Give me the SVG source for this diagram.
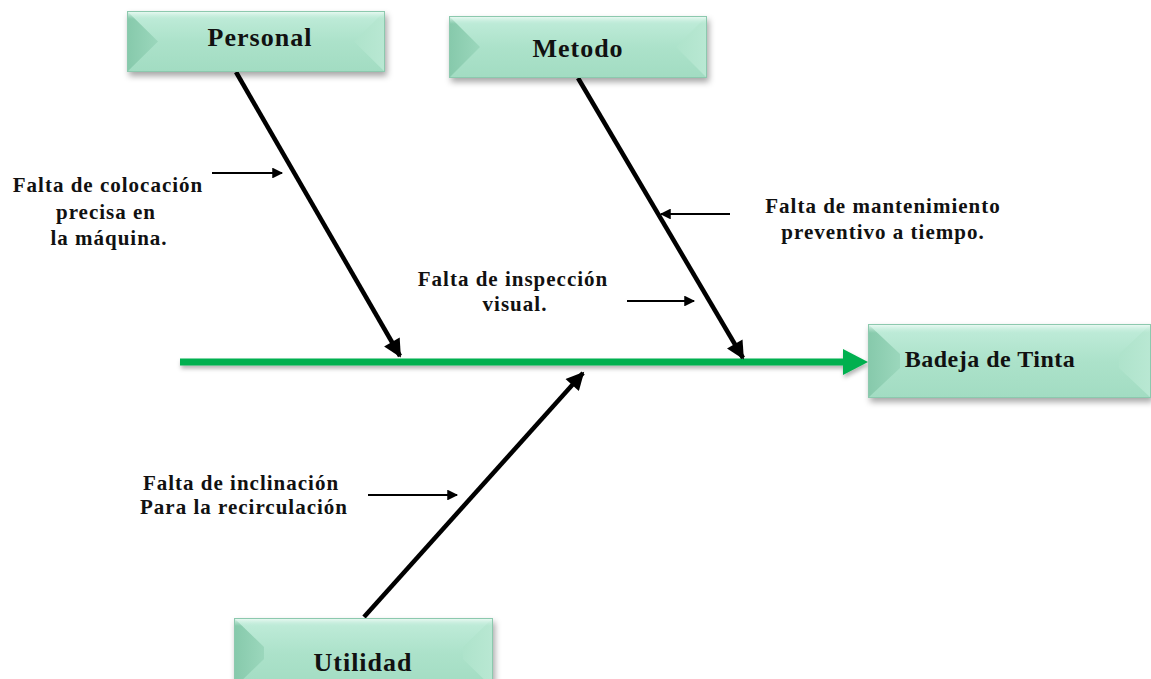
<svg xmlns="http://www.w3.org/2000/svg" width="1151" height="679" viewBox="0 0 1151 679">
  <style>
    .title { font-family: "Liberation Serif", "Times New Roman", serif; font-weight: bold; font-size: 26px; letter-spacing: 1px; fill: #111; text-anchor: middle; }
    .effect { font-size: 24px; letter-spacing: 0.5px; }
    .cause { font-family: "Liberation Serif", "Times New Roman", serif; font-weight: bold; font-size: 21px; letter-spacing: 1px; fill: #111; text-anchor: middle; }
    .body { fill: url(#bodyGrad); }
    .top { fill: url(#topGrad); }
    .left { fill: url(#leftGrad); }
    .right { fill: url(#rightGrad); }
    .edge { fill: none; stroke: #8cc9ae; stroke-width: 1; }
    .bone { stroke: #000; stroke-width: 4.5; fill: none; marker-end: url(#boneHead); }
    .pointer { stroke: #000; stroke-width: 1.8; fill: none; marker-end: url(#pointerHead); }
    .spine { stroke: #00b050; stroke-width: 7; fill: none; }
  </style>
  <defs>
    <linearGradient id="bodyGrad" x1="0" y1="0" x2="0" y2="1">
      <stop offset="0" stop-color="#c2eddb"/>
      <stop offset="0.5" stop-color="#ace2ca"/>
      <stop offset="1" stop-color="#a2dcc2"/>
    </linearGradient>
    <linearGradient id="topGrad" x1="0" y1="0" x2="0" y2="1">
      <stop offset="0" stop-color="#f2fbf7"/>
      <stop offset="1" stop-color="#c8efdf" stop-opacity="0"/>
    </linearGradient>
    <linearGradient id="leftGrad" x1="0" y1="0" x2="1" y2="0">
      <stop offset="0" stop-color="#86c9ab"/>
      <stop offset="1" stop-color="#9bd7bc"/>
    </linearGradient>
    <linearGradient id="rightGrad" x1="1" y1="0" x2="0" y2="0">
      <stop offset="0" stop-color="#b9e8d3"/>
      <stop offset="1" stop-color="#aee3cb"/>
    </linearGradient>
    <filter id="shadow" x="-10%" y="-20%" width="125%" height="160%">
      <feDropShadow dx="2" dy="4" stdDeviation="3" flood-color="#000" flood-opacity="0.35"/>
    </filter>
    <filter id="lineShadow" x="-5%" y="-100%" width="110%" height="300%">
      <feDropShadow dx="1" dy="3" stdDeviation="2" flood-color="#000" flood-opacity="0.3"/>
    </filter>
    <marker id="boneHead" viewBox="0 0 10 10" refX="9" refY="5" markerWidth="5" markerHeight="4" markerUnits="strokeWidth" orient="auto">
      <path d="M0,0 L10,5 L0,10 z" fill="#000"/>
    </marker>
    <marker id="pointerHead" viewBox="0 0 10 10" refX="9" refY="5" markerWidth="7" markerHeight="6" markerUnits="strokeWidth" orient="auto">
      <path d="M0,0 L10,5 L0,10 z" fill="#000"/>
    </marker>
  </defs>

  <rect width="1151" height="679" fill="#fff"/>

  <!-- Main spine and bones -->
  <g id="connectors">
    <g filter="url(#lineShadow)">
      <line class="spine" x1="180" y1="362" x2="846" y2="362"/>
      <polygon points="843,349 868,362 843,375" fill="#00b050"/>
    </g>
    <line class="bone" x1="236" y1="72" x2="400" y2="356"/>
    <line class="bone" x1="578" y1="78" x2="743" y2="358"/>
    <line class="bone" x1="364" y1="617" x2="583" y2="373"/>
    <line class="pointer" x1="212" y1="173" x2="282" y2="173"/>
    <line class="pointer" x1="730" y1="214" x2="661" y2="214"/>
    <line class="pointer" x1="627" y1="301" x2="694" y2="301"/>
    <line class="pointer" x1="368" y1="495" x2="457" y2="495"/>
  </g>

  <!-- Category boxes -->
  <g id="personal">
    <g filter="url(#shadow)">
      <rect class="body" x="127" y="11" width="258" height="61"/>
    </g>
    <polygon class="left" points="127,11 158,41.5 127,72"/>
    <polygon class="right" points="385,11 354,41.5 385,72"/>
    <rect class="top" x="127" y="11" width="258" height="8"/>
    <rect class="edge" x="127.5" y="11.5" width="257" height="60"/>
    <text class="title" x="260" y="46">Personal</text>
  </g>

  <g id="metodo">
    <g filter="url(#shadow)">
      <rect class="body" x="449" y="16" width="258" height="62"/>
    </g>
    <polygon class="left" points="449,16 480,47 449,78"/>
    <polygon class="right" points="707,16 676,47 707,78"/>
    <rect class="top" x="449" y="16" width="258" height="8"/>
    <rect class="edge" x="449.5" y="16.5" width="257" height="61"/>
    <text class="title" x="578" y="57">Metodo</text>
  </g>

  <g id="badeja">
    <g filter="url(#shadow)">
      <rect class="body" x="868" y="324" width="283" height="74"/>
    </g>
    <polygon class="left" points="868,324 900,354 900,368 868,398"/>
    <polygon class="right" points="1151,324 1119,354 1119,368 1151,398"/>
    <rect class="top" x="868" y="324" width="283" height="9"/>
    <rect class="edge" x="868.5" y="324.5" width="282" height="73"/>
    <text class="title effect" x="990" y="367">Badeja de Tinta</text>
  </g>

  <g id="utilidad">
    <g filter="url(#shadow)">
      <rect class="body" x="234" y="618" width="259" height="70"/>
    </g>
    <polygon class="left" points="234,618 264,647 264,659 234,688"/>
    <polygon class="right" points="493,618 463,647 463,659 493,688"/>
    <rect class="top" x="234" y="618" width="259" height="8"/>
    <rect class="edge" x="234.5" y="618.5" width="258" height="69"/>
    <text class="title" x="363" y="671">Utilidad</text>
  </g>

  <!-- Cause labels -->
  <g id="cause-colocacion">
    <text class="cause" x="108" y="192">Falta de colocación</text>
    <text class="cause" x="106" y="219">precisa en</text>
    <text class="cause" x="109" y="245">la máquina.</text>
  </g>
  <g id="cause-inspeccion">
    <text class="cause" x="513" y="286">Falta de inspección</text>
    <text class="cause" x="515" y="311">visual.</text>
  </g>
  <g id="cause-mantenimiento">
    <text class="cause" x="883" y="213">Falta de mantenimiento</text>
    <text class="cause" x="883" y="239">preventivo a tiempo.</text>
  </g>
  <g id="cause-inclinacion">
    <text class="cause" x="241" y="490">Falta de inclinación</text>
    <text class="cause" x="244" y="514">Para la recirculación</text>
  </g>
</svg>
